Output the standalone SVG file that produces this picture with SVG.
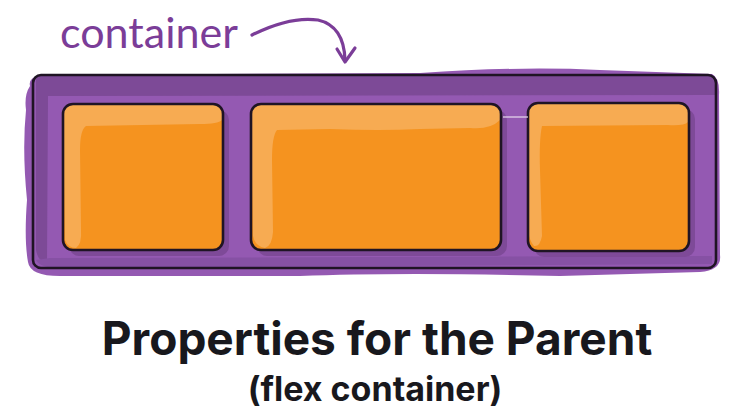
<svg xmlns="http://www.w3.org/2000/svg" width="737" height="417" viewBox="0 0 737 417">
<style>
.outline{fill:none;stroke:#1f1424;stroke-width:2.6;stroke-linejoin:round}
.box{fill:#f5931f}
.hl{fill:#f7ab52}
.shadow{fill:#7e4a98}
.title{font-family:Inter,"Liberation Sans",sans-serif;font-weight:700;fill:#18181d;text-anchor:middle}
.label{font-family:Lato,"Noto Sans",sans-serif;font-weight:400;fill:#7b3d98}
</style>
<rect width="737" height="417" fill="#ffffff"/>
<g id="container">
  <path d="M30,86 Q28,78 40,75 L420,73 Q520,66 600,70 L712,74 Q720,78 719,95 L720,255 Q722,270 700,272 L560,276 Q400,272 300,276 L60,276 Q30,276 28,262 Q24,240 27,200 Q22,150 26,110 Q24,95 30,86 Z" fill="#9459b2"/>
  <path d="M36,76 L712,75 Q716,76 715,95 L48,96 L47,262 Q38,262 36,250 Z" fill="#7d4a97"/>
  <path d="M36,260 Q40,268 60,268 L712,264 L712,256 L50,258 Z" fill="#8651a4"/>
  <rect x="33" y="75" width="683" height="193" rx="8" class="outline"/>
</g>
<g id="box1">
  <rect x="69" y="110" width="160" height="146" rx="10" class="shadow"/>
  <rect x="63" y="104" width="160" height="146" rx="10" class="box"/>
  <path d="M73,104 L213,104 Q223,104 223,114 L222,120 Q218,124 200,124 L86,126 Q80,130 80,150 L81,230 Q82,244 76,248 Q68,248 65,240 L63,114 Q63,104 73,104 Z" class="hl"/>
  <rect x="63" y="104" width="160" height="146" rx="10" class="outline"/>
</g>
<g id="box2">
  <rect x="257" y="110" width="250" height="146" rx="10" class="shadow"/>
  <rect x="251" y="104" width="250" height="146" rx="10" class="box"/>
  <path d="M261,104 L491,104 Q501,104 501,114 L500,120 Q490,130 470,128 L420,129 Q380,131 330,129 L277,130 Q272,136 272,160 L273,232 Q272,246 265,248 Q255,246 253,236 L251,114 Q251,104 261,104 Z" class="hl"/>
  <rect x="251" y="104" width="250" height="146" rx="10" class="outline"/>
</g>
<g id="box3">
  <rect x="534" y="109" width="161" height="148" rx="10" class="shadow"/>
  <rect x="528" y="103" width="161" height="148" rx="10" class="box"/>
  <path d="M538,103 L679,103 Q689,103 689,113 L688,122 Q684,126 668,125 L542,126 Q539,140 540,170 L542,236 Q540,247 534,246 Q529,240 528,230 L528,113 Q528,103 538,103 Z" class="hl"/>
  <rect x="528" y="103" width="161" height="148" rx="10" class="outline"/>
</g>
<g id="connectors">
  <path d="M252,35 Q290,16 318,20 Q344,26 345,60" fill="none" stroke="#7b3d98" stroke-width="3.2" stroke-linecap="round"/>
  <path d="M337,49 L345,62 L355,48" fill="none" stroke="#7b3d98" stroke-width="3.2" stroke-linecap="round" stroke-linejoin="round"/>
  <path d="M503,117 L528,117" stroke="#e9dcef" stroke-width="1.2"/>
</g>
<g id="label">
  <text x="60" y="48" class="label" font-size="42" textLength="178" lengthAdjust="spacingAndGlyphs">container</text>
</g>
<g id="titles">
  <text x="377" y="355" class="title" font-size="46">Properties for the Parent</text>
  <text x="375" y="401" class="title" font-size="34">(flex container)</text>
</g>
</svg>
